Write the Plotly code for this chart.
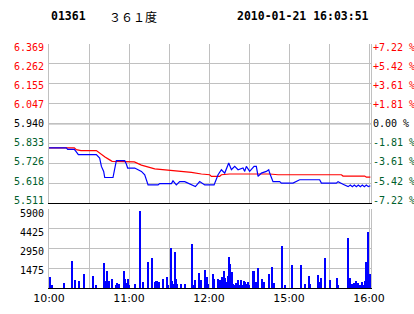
import plotly.graph_objects as go

# ---------------- data ----------------
stock_code = "01361"
stock_name = "３６１度"
stamp = "2010-01-21 16:03:51"
prev_close = 5.94
price_low, price_high = 5.511, 6.369
vol_max = 5900

time_labels = ["10:00", "", "11:00", "", "12:00", "", "15:00", "", "16:00"]
price_labels = ["5.511", "5.618", "5.726", "5.833", "5.940", "6.047", "6.155", "6.262", "6.369"]
pct_labels = ["-7.22 %", "-5.42 %", "-3.61 %", "-1.81 %", "0.00 %", "+1.81 %", "+3.61 %", "+5.42 %", "+7.22 %"]
vol_labels = ["1475", "2950", "4425", "5900"]

# minutes since open (trading minutes) and last price
price_t = [0, 13, 14, 19, 20.5, 22, 35.5, 38, 39.3, 41, 41.8, 48, 50.5, 56.8, 58, 59, 64.3,
           69.3, 71.8, 74.3, 81.8, 83, 91.8, 93, 95.5, 98, 101.8, 104.3, 109.8, 113, 116.8,
           123.8, 126.8, 129.3, 131.8, 134.8, 136.8, 139.3, 141.8, 145.5, 146.8, 148, 150.5,
           153.8, 155.5, 156.8, 159.3, 163, 164.8, 165.5, 168, 173, 174.3, 183, 188, 203,
           204.3, 215.5, 216.8, 220.5, 224.3, 226, 227.5, 229, 230.5, 232, 233.5, 235, 236.5,
           238, 239.5, 241]
price_v = [5.810, 5.810, 5.802, 5.802, 5.788, 5.773, 5.773, 5.755, 5.710, 5.683, 5.650, 5.650,
           5.741, 5.741, 5.723, 5.701, 5.701, 5.683, 5.665, 5.610, 5.610, 5.617, 5.617, 5.632,
           5.610, 5.628, 5.628, 5.620, 5.601, 5.628, 5.610, 5.610, 5.665, 5.692, 5.674, 5.728,
           5.692, 5.710, 5.692, 5.701, 5.683, 5.710, 5.683, 5.710, 5.710, 5.656, 5.674, 5.683,
           5.692, 5.674, 5.628, 5.628, 5.620, 5.620, 5.638, 5.638, 5.620, 5.620, 5.628, 5.614,
           5.601, 5.610, 5.601, 5.610, 5.601, 5.610, 5.601, 5.610, 5.601, 5.610, 5.601, 5.606]

# average price line
avg_t = [0, 19, 20.5, 24, 35.5, 38, 42, 45.5, 47.3, 64, 69.3, 79.3, 86.8, 96.8, 106.8, 114.3,
         120.5, 121.8, 128, 129.3, 135.5, 165.5, 171.8, 219.3, 220.5, 236.8, 238, 241]
avg_v = [5.810, 5.810, 5.800, 5.795, 5.795, 5.780, 5.760, 5.745, 5.737, 5.734, 5.717, 5.697,
         5.692, 5.683, 5.678, 5.669, 5.665, 5.656, 5.656, 5.665, 5.669, 5.669, 5.665, 5.665,
         5.658, 5.658, 5.652, 5.652]

# volume per minute
vol_t = [1, 2, 11.3, 17.3, 19.5, 22.5, 26.3, 33, 35.3, 41.3, 42, 43.5, 45, 47.3, 50.3, 51, 52.5,
         56.3, 57, 58.5, 59.3, 60, 64.5, 68.3, 70.5, 74.3, 77.3, 79.5, 80.3, 81, 82.5, 85.5,
         88.5, 89.3, 91.5, 92.3, 93, 94.5, 95.3, 96, 99, 102, 107.3, 108, 109.5, 112.5, 113.3,
         114, 117, 118.5, 119.3, 123, 123.8, 126.8, 128.3, 129, 129.8, 131.3, 132, 132.8,
         134.3, 135, 135.8, 137.3, 138, 138.8, 140.3, 141, 141.8, 143.3, 144, 144.8, 146.3,
         147, 147.8, 149.3, 150, 153, 153.8, 155.3, 156.8, 159.8, 161.3, 165, 167.3, 168.8,
         174.8, 177, 182.3, 189, 192, 195, 195.8, 201.8, 203.3, 204, 207, 210.8, 216, 216.8,
         224.3, 225, 225.8, 227.3, 228, 228.8, 230.3, 231.8, 233.3, 234, 234.8, 236.3, 237,
         237.8, 239.3, 240, 240.8]
vol_v = [772, 174, 324, 1967, 548, 473, 996, 847, 174, 1818, 473, 1220, 473, 623, 174, 324, 249,
         1220, 623, 324, 623, 174, 249, 5777, 398, 1893, 2191, 398, 473, 473, 398, 623,
         772, 174, 3012, 473, 249, 2639, 623, 249, 249, 249, 3311, 174, 548, 1071, 249,
         548, 1295, 772, 249, 996, 623, 623, 548, 324, 772, 1220, 697, 398,
         847, 2265, 1743, 1145, 249, 174, 324, 174, 548, 174, 548, 174, 473,
         398, 249, 398, 174, 1220, 1220, 398, 1444, 623, 398, 996, 1519, 324,
         3162, 174, 1668, 1668, 249, 847, 249, 921, 398, 697, 2191, 548, 697, 174,
         3759, 249, 697, 249, 249, 324, 473, 324, 174, 174, 398, 174, 473,
         1893, 4207, 324, 996]

# ---------------- styling ----------------
RED = "#ff0000"
GREEN = "#00602c"
BLACK = "#000000"
GRID = "#c0c0c0"
FONT = "DejaVu Sans"
LABEL_FONT = "DejaVu Sans Mono"
W, H = 414, 314
ML, MR, MT, MB = 49, 43, 44, 26

n = len(price_labels)
price_tickvals = [price_low + i * (price_high - price_low) / (n - 1) for i in range(n)]
mid = (n - 1) // 2
x_tickvals = [i * 30 for i in range(len(time_labels))]
vol_tickvals = [i * vol_max / 4 for i in range(5)]


def label_color(i):
    return GREEN if i < mid else (BLACK if i == mid else RED)


def px_x(px):
    return (px - ML) / (W - ML - MR)


def px_y(py):
    return (H - MB - py) / (H - MT - MB)


fig = go.Figure()
fig.add_trace(go.Scatter(x=avg_t, y=avg_v, mode="lines", line=dict(color=RED, width=1.2),
                         xaxis="x", yaxis="y", hoverinfo="skip"))
fig.add_trace(go.Scatter(x=price_t, y=price_v, mode="lines", line=dict(color="#0000ff", width=1.2),
                         xaxis="x", yaxis="y", hoverinfo="skip"))
fig.add_trace(go.Bar(x=vol_t, y=vol_v, width=0.75, marker=dict(color="#0000ff", line=dict(width=0)),
                     xaxis="x2", yaxis="y2", hoverinfo="skip"))

xr = [0, 241.5]
common_x = dict(range=xr, tickvals=x_tickvals, showgrid=True, gridcolor=GRID, gridwidth=1,
                zeroline=False, ticks="", fixedrange=True, automargin=False)
fig.update_layout(
    width=W, height=H,
    margin=dict(l=ML, r=MR, t=MT, b=MB),
    paper_bgcolor="white", plot_bgcolor="white",
    showlegend=False,
    font=dict(family=FONT, size=11, color=BLACK),
    xaxis=dict(**common_x, anchor="y", showticklabels=False,
               showline=True, linecolor=BLACK, linewidth=1),
    xaxis2=dict(**common_x, anchor="y2", ticktext=time_labels,
                showline=True, linecolor=BLACK, linewidth=1,
                tickfont=dict(family=FONT, size=11, color=BLACK)),
    yaxis=dict(domain=[0.347, 1], range=[price_low, price_high], tickvals=price_tickvals,
               showticklabels=False, showgrid=True, gridcolor=GRID, zeroline=False,
               ticks="", showline=True, linecolor=GRID, mirror=True, automargin=False),
    yaxis2=dict(domain=[0, 0.3225], range=[0, vol_max], tickvals=vol_tickvals,
                showticklabels=False, showgrid=True, gridcolor=GRID, zeroline=False, ticks="",
                showline=True, linecolor=GRID, mirror=True, automargin=False),
    bargap=0,
)

fig.add_shape(type="line", xref="x domain", yref="y", x0=0, x1=1, y0=prev_close, y1=prev_close,
              line=dict(color=BLACK, width=1), layer="below")

# price axis labels (left: price, right: percent), spread slightly inside the grid
lab_top, lab_step = 47.3, 19.1
for i in range(n):
    yy = px_y(lab_top + (n - 1 - i) * lab_step)
    c = label_color(i)
    fig.add_annotation(x=px_x(44.5), y=yy, xref="paper", yref="paper", showarrow=False,
                       text=price_labels[i], xanchor="right", yanchor="middle", borderpad=0,
                       font=dict(family=LABEL_FONT, size=10, color=c))
    fig.add_annotation(x=px_x(371.5), y=yy, xref="paper", yref="paper", showarrow=False,
                       text=pct_labels[i], xanchor="left", yanchor="middle", borderpad=0,
                       font=dict(family=LABEL_FONT, size=10, color=c))

# volume axis labels
for j, t in enumerate(vol_labels):
    yy = px_y(270.3 - j * 19.1)
    fig.add_annotation(x=px_x(44.5), y=yy, xref="paper", yref="paper", showarrow=False,
                       text=t, xanchor="right", yanchor="middle", borderpad=0,
                       font=dict(family=LABEL_FONT, size=10, color=BLACK))

# header
title_font = dict(family="DejaVu Sans Mono", size=11.5, color=BLACK)
fig.add_annotation(x=px_x(49), y=px_y(16), xref="paper", yref="paper", showarrow=False,
                   text=f"<b>{stock_code}</b>", font=title_font, xanchor="left", yanchor="middle")
fig.add_annotation(x=px_x(107), y=px_y(16), xref="paper", yref="paper", showarrow=False,
                   text=stock_name, font=dict(family="Noto Sans CJK SC", size=12, color=BLACK),
                   xanchor="left", yanchor="middle")
fig.add_annotation(x=px_x(371), y=px_y(16), xref="paper", yref="paper", showarrow=False,
                   text=f"<b>{stamp}</b>", font=title_font, xanchor="right", yanchor="middle")

fig.write_html("out.html", config={"displayModeBar": False})
